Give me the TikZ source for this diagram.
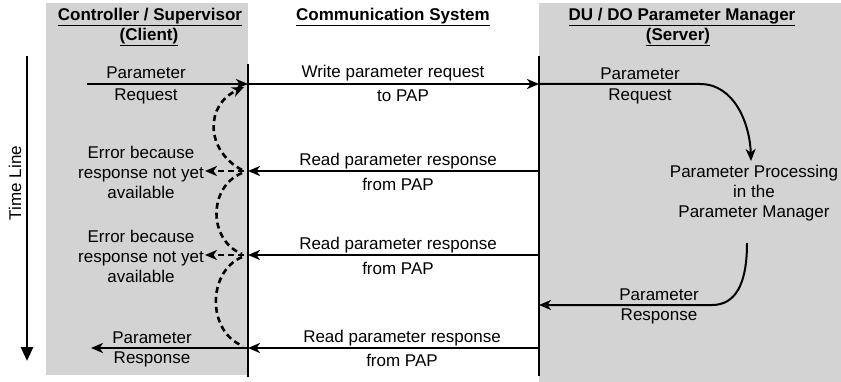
\documentclass[tikz,border=0pt]{standalone}
\usepackage{fontspec}
\setmainfont{Liberation Sans}
\usetikzlibrary{arrows.meta}
\definecolor{panel}{RGB}{211,211,212}
\begin{document}
\begin{tikzpicture}[x=1pt,y=-1pt,
  lbl/.style={inner sep=0pt, align=center, font=\fontsize{17}{20}\selectfont},
  hdr/.style={inner sep=0pt, align=center, font=\fontsize{17}{19}\selectfont\bfseries},
  tip/.style={-{Stealth[length=12pt,width=10pt,inset=3.5pt]}},
  msg/.style={line width=2.8pt, tip},
  lane/.style={line width=1.5pt},
  srv/.style={line width=2pt},
  dsh/.style={line width=2.6pt, dash pattern=on 6pt off 4pt},
  err/.style={dsh, tip}
]
\useasboundingbox (0,0) rectangle (841,382);
% panels
\fill[panel] (46,3) rectangle (248,375);
\fill[panel] (539,3) rectangle (841,382);
% headers
\node[hdr] (hc1) at (150,17) {\underline{Controller / Supervisor}};
\node[hdr] (hc2) at (149,37) {\underline{(Client)}};
\node[hdr] (hm) at (393,17) {\underline{Communication System}};
\node[hdr] (hs1) at (682,17) {\underline{DU / DO Parameter Manager}};
\node[hdr] (hs2) at (678,37) {\underline{(Server)}};
% coordinates
\coordinate (lt) at (248,64);
\coordinate (lb) at (248,377);
\coordinate (rt) at (539,56);
\coordinate (rb) at (539,376);
\coordinate (t0) at (27,56);
\coordinate (t1) at (27,361);
\coordinate (qs) at (87,84);
\coordinate (qa) at (248,84);
\coordinate (qb) at (539,84);
\coordinate (qc) at (700,84);
\coordinate (qd) at (751,161);
\coordinate (ra) at (747,243);
\coordinate (rc) at (712,305);
\coordinate (rd) at (539,305);
\coordinate (r1a) at (539,171);
\coordinate (r1b) at (248,171);
\coordinate (r2a) at (539,255);
\coordinate (r2b) at (248,255);
\coordinate (r3a) at (539,348);
\coordinate (r3b) at (248,348);
\coordinate (r3c) at (91,348);
\coordinate (e1) at (205,171);
\coordinate (e2) at (205,255);
% lanes
\draw[lane] (lt) -- (lb);
\draw[lane] (rt) -- (rb);
% time line
\draw[line width=2.8pt, -{Triangle[length=14pt,width=12pt]}] (t0) -- (t1);
\node[lbl, rotate=90] (tl) at (15,183) {Time Line};
% request
\draw[msg] (qs) -- (qa);
\draw[msg] (qa) -- (qb);
\draw[srv, tip] (qb) -- (qc) .. controls (735,84) and (750,125) .. (qd);
\node[lbl] (lq1) at (146,73) {Parameter};
\node[lbl] (lq2) at (146,96) {Request};
\node[lbl] (w1) at (393,73) {Write parameter request};
\node[lbl] (w2) at (403,96) {to PAP};
\node[lbl] (sq1) at (640,74) {Parameter};
\node[lbl] (sq2) at (640,96) {Request};
% processing
\node[lbl] (proc) at (754,193) {Parameter Processing\\in the\\Parameter Manager};
% response at server
\draw[srv, tip] (ra) .. controls (747,285) and (735,305) .. (rc) -- (rd);
\node[lbl] (sr1) at (659,295) {Parameter};
\node[lbl] (sr2) at (659,316) {Response};
% read responses
\draw[msg] (r1a) -- (r1b);
\node[lbl] (rr1) at (398,161) {Read parameter response};
\node[lbl] (rp1) at (398,184) {from PAP};
\draw[msg] (r2a) -- (r2b);
\node[lbl] (rr2) at (398,245) {Read parameter response};
\node[lbl] (rp2) at (398,268) {from PAP};
\draw[msg] (r3a) -- (r3b);
\node[lbl] (rr3) at (402,338) {Read parameter response};
\node[lbl] (rp3) at (402,360) {from PAP};
\draw[msg] (r3b) -- (r3c);
\node[lbl] (lr1) at (152,338) {Parameter};
\node[lbl] (lr2) at (152,359) {Response};
% errors
\draw[err] (244,171) -- (e1);
\draw[err] (244,255) -- (e2);
\node[lbl] (er1) at (141,172) {Error because\\response not yet\\available};
\node[lbl] (er2) at (141,256) {Error because\\response not yet\\available};
% dashed retry curves
\draw[err] (242,170) .. controls (205,150) and (205,105) .. (244,87);
\draw[dsh] (242,173) .. controls (208,187) and (208,240) .. (242,254);
\draw[dsh] (242,257) .. controls (207,272) and (207,332) .. (243,346);
\end{tikzpicture}
\end{document}
